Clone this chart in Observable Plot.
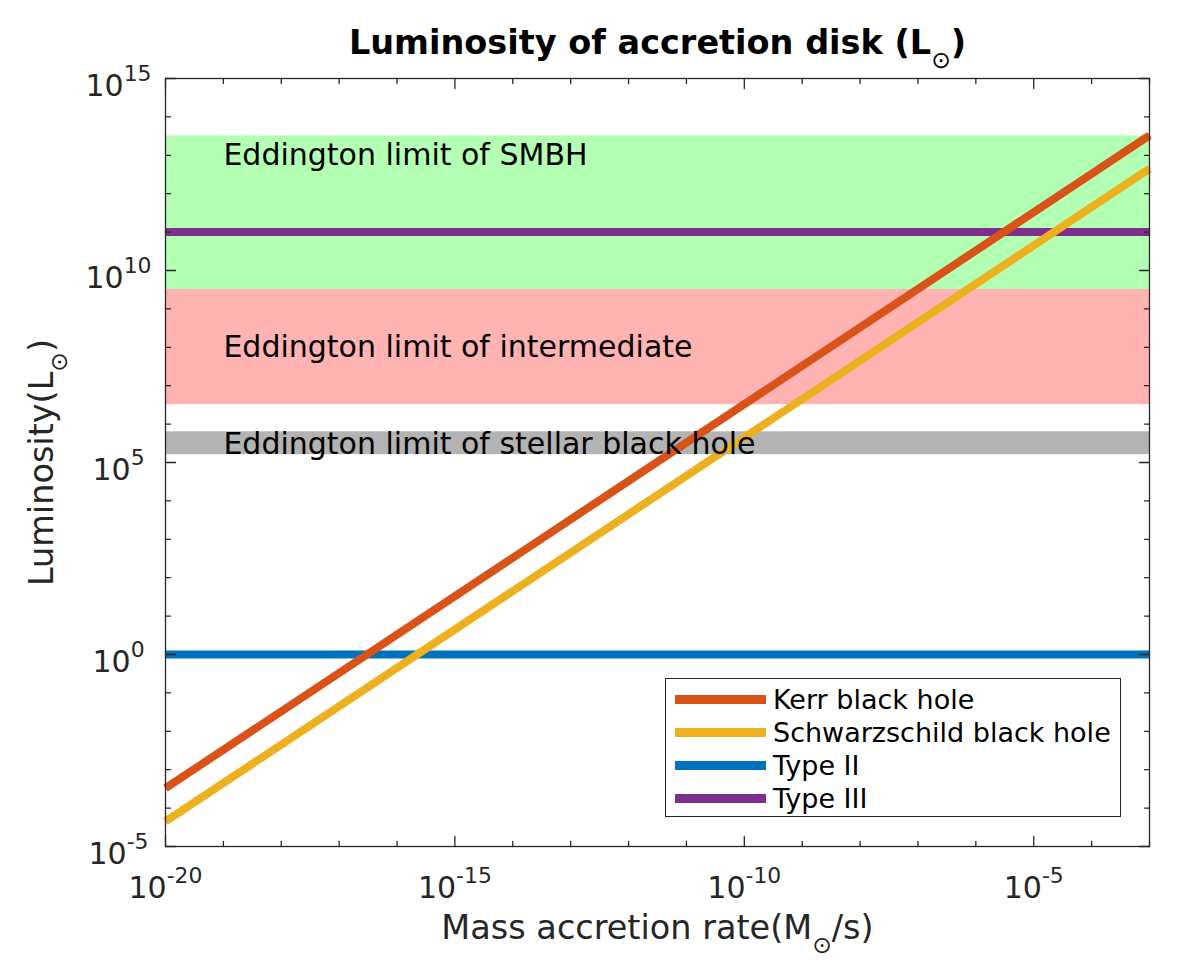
<!DOCTYPE html>
<html>
<head>
<meta charset="utf-8">
<script src="https://cdn.jsdelivr.net/npm/d3@7"></script>
<script src="https://cdn.jsdelivr.net/npm/@observablehq/plot@0.6"></script>
<style>
  body { margin: 0; background: #fff; }
  #wrap { position: relative; width: 1182px; height: 972px; font-family: "DejaVu Sans", sans-serif; }
  #legend { position: absolute; left: 665px; top: 678px; width: 456px; height: 139px;
            border: 1.3px solid #262626; background: #fff; box-sizing: border-box; }
  .row { position: absolute; left: 0; height: 33px; line-height: 33px; font-size: 27px; color: #000; white-space: nowrap; }
  .sw { position: absolute; left: 9px; top: 12px; width: 91px; height: 9px; }
  .lab { position: absolute; left: 107px; top: 0; }
</style>
</head>
<body>
<div id="wrap"></div>
<script>
// ---------------- data ----------------
const mdot        = [1e-20, 1e-3];          // mass accretion rate (Msun/s), x extent
const kerrL       = [3.3e-4, 3.3e13];       // Kerr black hole luminosity at mdot
const schwL       = [4.5e-5, 4.5e12];       // Schwarzschild black hole luminosity at mdot
const typeIIL     = 1;                      // Type II civilisation
const typeIIIL    = 1e11;                   // Type III civilisation

const bandNames   = ["Eddington limit of SMBH", "Eddington limit of intermediate", "Eddington limit of stellar black hole"];
const bandLow     = [3.2e9, 3.2e6, 1.6e5];
const bandHigh    = [3.2e13, 3.2e9, 6.3e5];
const bandLabelX  = [1e-19, 1e-19, 1e-19];
const bandLabelY  = [1e13, 1e8, 3e5];

const seriesNames = ["Kerr black hole", "Schwarzschild black hole", "Type II", "Type III"];

const xDecades = [-20,-19,-18,-17,-16,-15,-14,-13,-12,-11,-10,-9,-8,-7,-6,-5,-4,-3];
const yDecades = [-5,-4,-3,-2,-1,0,1,2,3,4,5,6,7,8,9,10,11,12,13,14,15];
const xTickLabels = [-20, -15, -10, -5];
const yTickLabels = [-5, 0, 5, 10, 15];

const titleText  = "Luminosity of accretion disk (L_{⊙})";
const xLabelText = "Mass accretion rate(M_{⊙}/s)";
const yLabelText = "Luminosity(L_{⊙})";

// ---------------- styles ----------------
const seriesColors = ["#D95319", "#EDB120", "#0072BD", "#7E2F8E"];
const bandColors   = ["#B3FFB3", "#FFB3B3", "#B3B3B3"];
const axisColor = "#262626";
const LW = 8;

// tables built from the arrays
const bands = bandNames.map((n, i) => ({name: n, lo: bandLow[i], hi: bandHigh[i], c: bandColors[i], lx: bandLabelX[i], ly: bandLabelY[i]}));
const curves = [
  ...mdot.map((m, i) => ({s: seriesNames[0], x: m, y: kerrL[i]})),
  ...mdot.map((m, i) => ({s: seriesNames[1], x: m, y: schwL[i]}))
];
const hlines = [
  ...mdot.map(m => ({s: seriesNames[2], x: m, y: typeIIL})),
  ...mdot.map(m => ({s: seriesNames[3], x: m, y: typeIIIL}))
];
const xMinor = xDecades.filter(d => !xTickLabels.includes(d));
const yMinor = yDecades.filter(d => !yTickLabels.includes(d));

const tickShape = {draw(ctx, l) { ctx.moveTo(0, 0); ctx.lineTo(0, -l); }};
function tickMarks(data, axis, anchor, rot, len) {
  const o = {frameAnchor: anchor, rotate: rot, length: len, shape: tickShape, anchor: "start", stroke: axisColor, strokeWidth: 1.3};
  o[axis] = d => 10 ** d;
  return Plot.vector(data, o);
}

const chart = Plot.plot({
  width: 1182,
  height: 972,
  marginLeft: 165,
  marginRight: 33,
  marginTop: 78,
  marginBottom: 126,
  style: {fontFamily: "DejaVu Sans", background: "#fff"},
  x: {type: "log", domain: [mdot[0], mdot[1]], axis: null},
  y: {type: "log", domain: [1e-5, 1e15], axis: null},
  color: {domain: seriesNames, range: seriesColors},
  marks: [
    Plot.rect(bands, {x1: mdot[0], x2: mdot[1], y1: "lo", y2: "hi", fill: "c"}),
    Plot.line(hlines, {x: "x", y: "y", z: "s", stroke: "s", strokeWidth: LW, strokeLinecap: "butt"}),
    Plot.line(curves, {x: "x", y: "y", z: "s", stroke: "s", strokeWidth: LW, strokeLinecap: "butt"}),
    Plot.text(bands, {x: "lx", y: "ly", text: "name", textAnchor: "start", lineAnchor: "middle", fontSize: 30, fill: "#000"}),
    Plot.frame({stroke: axisColor, strokeWidth: 1.3}),
    tickMarks(xTickLabels, "x", "bottom", 0, 10),
    tickMarks(xMinor, "x", "bottom", 0, 5),
    tickMarks(xTickLabels, "x", "top", 180, 10),
    tickMarks(xMinor, "x", "top", 180, 5),
    tickMarks(yTickLabels, "y", "left", 90, 10),
    tickMarks(yMinor, "y", "left", 90, 5),
    tickMarks(yTickLabels, "y", "right", -90, 10),
    tickMarks(yMinor, "y", "right", -90, 5),
    Plot.text(xTickLabels, {x: d => 10 ** d, frameAnchor: "bottom", dy: 51, text: d => `10^{${d}}`, textAnchor: "middle", lineAnchor: "bottom", fontSize: 30, fill: axisColor}),
    Plot.text(yTickLabels, {y: d => 10 ** d, frameAnchor: "left", dx: -47, dy: 17, text: d => `10^{${d}}`, textAnchor: "middle", lineAnchor: "bottom", fontSize: 30, fill: axisColor}),
    Plot.text([titleText], {text: d => d, frameAnchor: "top", dy: -25, textAnchor: "middle", lineAnchor: "bottom", fontSize: 33.5, fontWeight: "bold", fill: "#000"}),
    Plot.text([xLabelText], {text: d => d, frameAnchor: "bottom", dy: 92, textAnchor: "middle", lineAnchor: "bottom", fontSize: 33.5, fill: axisColor}),
    Plot.text([yLabelText], {text: d => d, frameAnchor: "left", dx: -113, rotate: -90, textAnchor: "middle", lineAnchor: "bottom", fontSize: 33.5, fill: axisColor})
  ]
});

const wrap = document.getElementById("wrap");
wrap.appendChild(chart);

// rich text: ^{...} superscript, _{...} subscript
d3.select(chart).selectAll("text").each(function() {
  const s = this.textContent;
  if (!/[\^_]\{/.test(s)) return;
  const F = parseFloat(getComputedStyle(this).fontSize) || 30;
  this.textContent = "";
  const re = /([\^_])\{([^}]*)\}|([^\^_]+)/g;
  let m, shift = 0;
  while ((m = re.exec(s))) {
    const ts = document.createElementNS("http://www.w3.org/2000/svg", "tspan");
    if (m[3] !== undefined) {
      ts.textContent = m[3];
      if (shift) ts.setAttribute("dy", -shift);
      shift = 0;
    } else {
      const target = m[1] === "^" ? -0.47 * F : 0.42 * F;
      ts.setAttribute("dy", target - shift);
      ts.setAttribute("font-size", (m[1] === "^" ? 0.73 : 0.7) * F);
      ts.setAttribute("font-weight", "normal");
      ts.textContent = m[2];
      shift = target;
    }
    this.appendChild(ts);
  }
});

// legend
const legend = document.createElement("div");
legend.id = "legend";
seriesNames.forEach((n, i) => {
  const row = document.createElement("div");
  row.className = "row";
  row.style.top = (4 + i * 32.9) + "px";
  row.style.width = "100%";
  const sw = document.createElement("div");
  sw.className = "sw";
  sw.style.background = seriesColors[i];
  const lab = document.createElement("div");
  lab.className = "lab";
  lab.textContent = n;
  row.appendChild(sw);
  row.appendChild(lab);
  legend.appendChild(row);
});
wrap.appendChild(legend);
</script>
</body>
</html>
